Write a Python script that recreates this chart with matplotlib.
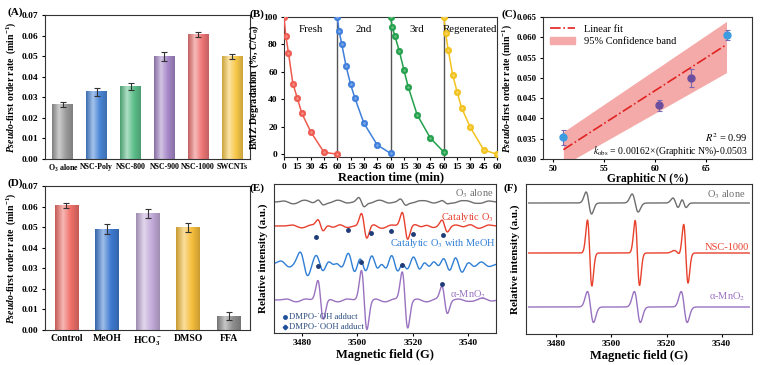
import numpy as np
import matplotlib
matplotlib.use('Agg')
import matplotlib.pyplot as plt
from matplotlib.colors import LinearSegmentedColormap, to_rgb
from matplotlib.lines import Line2D
from matplotlib.patches import Patch

plt.rcParams['font.family'] = ['Liberation Serif', 'DejaVu Serif']
plt.rcParams['mathtext.fontset'] = 'custom'
plt.rcParams['mathtext.rm'] = 'Liberation Serif:bold'
plt.rcParams['mathtext.it'] = 'Liberation Serif:italic:bold'
plt.rcParams['mathtext.bf'] = 'Liberation Serif:bold'
plt.rcParams['axes.linewidth'] = 0.8
plt.rcParams['axes.edgecolor'] = '#333333'
plt.rcParams['xtick.major.size'] = 2.5
plt.rcParams['ytick.major.size'] = 2.5
plt.rcParams['xtick.major.pad'] = 2
plt.rcParams['ytick.major.pad'] = 2

# (A) catalysts
cat_a = ['O$_3$ alone', 'NSC-Poly', 'NSC-800', 'NSC-900', 'NSC-1000', 'SWCNTs']
rate_a = [0.0265, 0.0327, 0.0353, 0.0498, 0.0605, 0.0500]
err_a = [0.0014, 0.0020, 0.0018, 0.0022, 0.0012, 0.0012]
col_a = ['#9b9b9b', '#4a86d6', '#5dbf8b', '#a688c8', '#ef7676', '#f8c84a']

# (D) scavengers
cat_d = ['Control', 'MeOH', 'HCO$_3^-$', 'DMSO', 'FFA']
rate_d = [0.0605, 0.0490, 0.0565, 0.0498, 0.0067]
err_d = [0.0012, 0.0025, 0.0022, 0.0021, 0.0020]
col_d = ['#ef6f68', '#3f7bd1', '#c3acd9', '#f6be3c', '#8e8e8e']

# (B) reuse cycles
time_b = [0, 2, 5, 10, 15, 20, 30, 45, 60]
cycles = ['Fresh', '2nd', '3rd', 'Regenerated']
deg_b = [
    [100, 86.5, 74, 51.5, 41, 30, 16.5, 1.5, 0],
    [100, 90, 80.5, 64, 51, 40.7, 22.7, 6.8, 0.7],
    [100, 92.7, 86, 75, 61.7, 49, 28.8, 11.7, 1.7],
    [100, 88.5, 76.3, 58, 45.6, 34, 19.5, 3.2, 0],
]
col_b = ['#ee5a4f', '#3f7fdb', '#22a04b', '#f2c21e']

# (C) correlation
gn = [51.0, 60.4, 63.5, 67.0]
kc = [0.0353, 0.0432, 0.0499, 0.0605]
kc_err = [0.0018, 0.0013, 0.0022, 0.0012]
pt_col = ['#3d9be0', '#6b4f9e', '#6b4f9e', '#3d9be0']
fit_x = [51, 67]
fit_y = [0.0323, 0.0582]
band_lo = [0.0285, 0.0513]
band_hi = [0.0367, 0.0639]

# (E) EPR lines: centre (G), peak-to-peak height, width (G)
e_names = ['O$_3$ alone', 'Catalytic O$_3$', 'Catalytic O$_3$ with MeOH', 'α-MnO$_2$']
e_cols = ['#6e6e6e', '#e8402f', '#2f7fd6', '#9a72c0']
e_base = [131, 107, 69, 33]
e_cent = [
    [3475, 3479, 3483, 3486.8, 3491, 3495, 3501.5, 3506, 3510, 3516.5, 3521, 3526, 3531.5, 3536, 3541, 3546],
    [3478, 3482, 3486.8, 3490, 3495, 3502.5, 3507, 3511, 3517.2, 3522, 3526, 3531.5, 3537, 3542, 3546],
    [3474, 3480.8, 3486.5, 3490.5, 3493.5, 3498, 3502, 3506.3, 3509.5, 3513.5, 3517, 3521.4, 3525,
     3528.5, 3532.2, 3536.5, 3541, 3546],
    [3476, 3480, 3486.8, 3491, 3495, 3502.5, 3508, 3512, 3517.2, 3523, 3527, 3531.5, 3538, 3543, 3547],
]
e_pp = [
    [2, -2, 2, 5, -2, 2, 9, -2, 2, 6, -2, 2, 3, -2, 2, -2],
    [2, -2, 12, 3, 3, 25, 3, -2, 27, 3, 3, 12, 2, 3, -2],
    [6, 24, 18, 10, 10, 24, 20, 22, 16, 24, 14, 18, 12, 12, 18, 18, 6, 5],
    [2, -2, 39, 2, -2, 59, 2, -2, 56, 2, -2, 27, 2, -2, 2],
]
e_wid = [
    [1.5, 1.5, 1.5, 1.0, 1.5, 1.5, 1.0, 1.5, 1.5, 1.0, 1.5, 1.5, 1.0, 1.5, 1.5, 1.5],
    [1.5, 1.5, 1.0, 1.5, 1.5, 1.0, 1.5, 1.5, 1.0, 1.5, 1.5, 1.0, 1.5, 1.5, 1.5],
    [1.6] + [1.4] * 16 + [1.6],
    [1.5, 1.5, 1.0, 1.5, 1.5, 1.0, 1.5, 1.5, 1.0, 1.5, 1.5, 1.0, 1.5, 1.5, 1.5],
]
e_lab_y = [139, 115, 90, 38]
star_x = [3485.3, 3496.8, 3505.1, 3512.3, 3520.2, 3531.0, 3485.8, 3501.5, 3516.2, 3530.5]
star_y = [96, 103, 100, 102, 99, 98, 67, 71, 68, 49]

# (F) EPR lines
f_names = ['O$_3$ alone', 'NSC-1000', 'α-MnO$_2$']
f_cols = ['#6e6e6e', '#e8412c', '#9a72c0']
f_base = [131, 81, 27]
f_cent = [[3491.8, 3508.6, 3523.3, 3526.3], [3492.1, 3509.4, 3527.0, 3524.0], [3492.4, 3509.4, 3526.4]]
f_pp = [[22, 18, 10, 9], [66, 65, 60, 5], [31, 31, 31]]
f_wid = [[1.0, 1.1, 1.0, 0.8], [0.8, 0.8, 0.8, 1.2], [1.1, 1.1, 1.1]]
f_lab_y = [139, 87, 37]

field = np.linspace(3470, 3550, 1600)

TICK = 6.8


def epr(base, centers, pp, widths):
    y = np.full_like(field, base, dtype=float)
    for c, a, w in zip(centers, pp, widths):
        u = (field - c) / w
        y += -a / (2 * np.exp(-0.5)) * u * np.exp(-0.5 * u ** 2)
    return y


def bold_ticks(ax):
    for t in ax.get_xticklabels() + ax.get_yticklabels():
        t.set_fontweight('bold')


def grad_bar(ax, x, h, w, color):
    c = np.array(to_rgb(color))
    dark = c * 0.82
    light = c + (1 - c) * 0.5
    cmap = LinearSegmentedColormap.from_list('g', [dark, light, c, dark])
    grad = np.linspace(0, 1, 64).reshape(1, -1)
    ax.imshow(grad, cmap=cmap, extent=(x - w / 2, x + w / 2, 0, h), aspect='auto',
              origin='lower', zorder=2)


def bar_panel(ax, cats, rates, errs, cols, width, xsize):
    n = len(cats)
    for i in range(n):
        grad_bar(ax, i, rates[i], width, cols[i])
    ax.errorbar(range(n), rates, yerr=errs, fmt='none', ecolor='#333333', elinewidth=0.8,
                capsize=2, capthick=0.8, zorder=3)
    ax.set_xlim(-0.53, n - 0.47)
    ax.set_ylim(0, 0.07)
    ax.set_yticks(np.arange(0, 0.071, 0.01))
    ax.set_yticklabels(['%.2f' % v for v in np.arange(0, 0.071, 0.01)])
    ax.set_xticks(range(n))
    ax.set_xticklabels(cats)
    ax.tick_params(axis='y', labelsize=TICK, length=2.5)
    ax.tick_params(axis='x', labelsize=xsize, length=0, pad=3)
    bold_ticks(ax)
    ax.set_ylabel(r'$Pseudo$-first order rate  (min$^{-1}$)', fontsize=7.0, fontweight='bold', labelpad=3)


fig = plt.figure(figsize=(7.67, 3.65), dpi=100)
W, H = 767, 365


def add_ax(l, t, r, b):
    return fig.add_axes([l / W, 1 - b / H, (r - l) / W, (b - t) / H])


# A
ax = add_ax(45, 15, 250, 159)
bar_panel(ax, cat_a, rate_a, err_a, col_a, 0.62, 5.7)

# D
ax = add_ax(45, 186, 250, 330)
bar_panel(ax, cat_d, rate_d, err_d, col_d, 0.58, 7)

# B
ax = add_ax(284, 17, 497, 157)
for k in range(4):
    xs = [t + 60 * k for t in time_b]
    ax.plot(xs, deg_b[k], '-', color=col_b[k], lw=1.1, zorder=3)
    ax.plot(xs, deg_b[k], 'o', ms=4.6, mfc=col_b[k], mec=col_b[k], mew=0.5, zorder=4)
    ax.plot(xs, deg_b[k], 'o', ms=1.8, mfc='white', mec='none', alpha=0.35, zorder=5)
    ax.text(30 + 60 * k, 91, cycles[k], ha='center', va='center', fontsize=7.8)
for k in range(1, 4):
    ax.axvline(60 * k, color='#555555', lw=1.0, zorder=2)
ax.set_xlim(0, 240)
ax.set_ylim(-2, 100)
ticks_b = np.arange(0, 241, 15)
ax.set_xticks(ticks_b)
ax.set_xticklabels(['0'] + ['%d' % (v % 60 if v % 60 else 60) for v in ticks_b[1:]])
ax.set_yticks(range(0, 101, 20))
ax.tick_params(labelsize=TICK)
bold_ticks(ax)
ax.set_xlabel('Reaction time (min)', fontsize=9, fontweight='bold', labelpad=0)
ax.set_ylabel('BMZ Degradation (%, $C/C_0$)', fontsize=7.3, fontweight='bold', labelpad=2)

# C
ax = add_ax(543, 17, 752, 159)
ax.fill_between(fit_x, band_lo, band_hi, color='#f4aaa8', lw=0, zorder=1)
ax.plot(fit_x, fit_y, color='#e02323', ls='-.', lw=1.2, zorder=2)
for i in range(4):
    ax.errorbar(gn[i], kc[i], yerr=kc_err[i], fmt='o', ms=5, mfc=pt_col[i], mec=pt_col[i],
                ecolor='#7a68b0', elinewidth=0.8, capsize=1.8, capthick=0.8, zorder=3)
ax.set_xlim(49, 69.5)
ax.set_ylim(0.030, 0.065)
ax.set_xticks([50, 55, 60, 65])
ax.set_yticks(np.arange(0.030, 0.0651, 0.005))
ax.set_yticklabels(['%.3f' % v for v in np.arange(0.030, 0.0651, 0.005)])
ax.tick_params(labelsize=6.3)
bold_ticks(ax)
ax.set_xlabel('Graphitic N (%)', fontsize=8.3, fontweight='bold', labelpad=0)
ax.set_ylabel(r'$Pseudo$-first order rate (min$^{-1}$)', fontsize=7.0, fontweight='bold', labelpad=2)
handles = [Line2D([], [], color='#e02323', ls='-.', lw=1.2), Patch(color='#f4aaa8')]
ax.legend(handles, ['Linear fit', '95% Confidence band'], loc='upper left', frameon=False,
          fontsize=7.5, handlelength=2.4, borderaxespad=0.3, labelspacing=0.3)
ax.text(69.1, 0.0352, r'$R^2$ = 0.99', ha='right', va='center', fontsize=7.5, math_fontfamily='stix')
ax.text(69.1, 0.0318, r'$k$$_{\rm obs}$ = 0.00162×(Graphitic N%)-0.0503', ha='right', va='center',
        fontsize=7, math_fontfamily='stix')

# E
ax = add_ax(274, 184, 496, 333)
for i in range(4):
    ax.plot(field, epr(e_base[i], e_cent[i], e_pp[i], e_wid[i]), color=e_cols[i], lw=1.0)
ax.text(3549, e_lab_y[0], e_names[0], color=e_cols[0], ha='right', va='center', fontsize=7.5,
        math_fontfamily='stix')
ax.text(3549, e_lab_y[1], e_names[1], color=e_cols[1], ha='right', va='center', fontsize=7.5,
        math_fontfamily='stix')
ax.text(3550, e_lab_y[2], e_names[2], color=e_cols[2], ha='right', va='center', fontsize=7.5,
        math_fontfamily='stix')
ax.text(3540, e_lab_y[3], e_names[3], color=e_cols[3], ha='center', va='center', fontsize=7.5,
        math_fontfamily='stix')
ax.plot(star_x, star_y, 'o', ms=2.5, color='#1f3c78', zorder=4)
ax.plot([3473.8], [16], 'o', ms=2.5, color='#1f4f9a')
ax.plot([3473.8], [6], 'D', ms=2.3, color='#1f4f9a')
ax.text(3475.3, 16, 'DMPO-˙OH adduct', color='#2b4c7e', fontsize=6.2, va='center')
ax.text(3475.3, 6, 'DMPO-˙OOH adduct', color='#2b4c7e', fontsize=6.2, va='center')
ax.set_xlim(3470, 3550)
ax.set_ylim(0, 149)
ax.set_xticks([3480, 3500, 3520, 3540])
ax.set_yticks([])
ax.tick_params(labelsize=TICK)
bold_ticks(ax)
ax.set_xlabel('Magnetic field (G)', fontsize=9, fontweight='bold', labelpad=1)
ax.set_ylabel('Relative intensity (a.u.)', fontsize=8, fontweight='bold', labelpad=4)

# F
ax = add_ax(526, 184, 752, 334)
for i in range(3):
    ax.plot(field, epr(f_base[i], f_cent[i], f_pp[i], f_wid[i]), color=f_cols[i], lw=1.0)
for i, xr in enumerate([3548.5, 3550, 3548.5]):
    ax.text(xr, f_lab_y[i], f_names[i], color=f_cols[i], ha='right', va='center', fontsize=7.5,
            math_fontfamily='stix')
ax.set_xlim(3469, 3551)
ax.set_ylim(0, 150)
ax.set_xticks([3480, 3500, 3520, 3540])
ax.set_yticks([])
ax.tick_params(labelsize=TICK)
bold_ticks(ax)
ax.set_xlabel('Magnetic field (G)', fontsize=9, fontweight='bold', labelpad=1)
ax.set_ylabel('Relative intensity (a.u.)', fontsize=8, fontweight='bold', labelpad=4)

# panel letters
for lab, px, py in [('(A)', 8, 12), ('(B)', 250, 14), ('(C)', 501, 14),
                    ('(D)', 8, 183), ('(E)', 250, 188), ('(F)', 504, 188)]:
    fig.text(px / W, 1 - py / H, lab, fontsize=8, fontweight='bold', va='center', ha='left')

fig.savefig('out.png', dpi=100)
